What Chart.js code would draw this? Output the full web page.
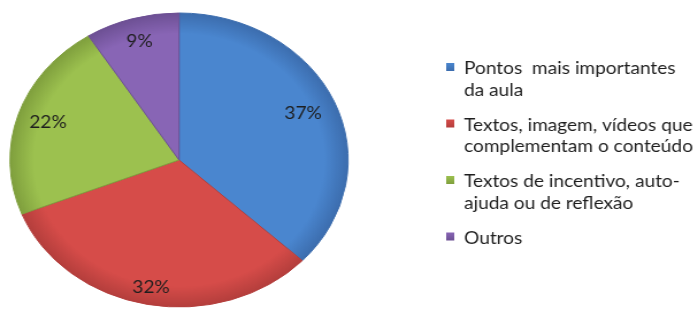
<!DOCTYPE html>
<html><head><meta charset="utf-8">
<script src="https://cdn.jsdelivr.net/npm/chart.js@4.4.1/dist/chart.umd.min.js"></script>
<style>
html,body{margin:0;padding:0;background:#fff;overflow:hidden;width:699px;height:309px}
#wrap{position:absolute;left:0;top:0;width:608px;height:309px;transform:scaleX(1.15);transform-origin:0 0}
canvas{display:block}
</style></head><body>
<div id="wrap"><canvas id="c" width="608" height="309"></canvas></div>
<script>
// ---- data ----
const categories = [
  ["Pontos  mais importantes", "da aula"],
  ["Textos, imagem, vídeos que", "complementam o conteúdo"],
  ["Textos de incentivo, auto-", "ajuda ou de reflexão"],
  ["Outros"]
];
const values = [37, 32, 22, 9];
const valueLabels = ["37%", "32%", "22%", "9%"];

// ---- style ----
const baseColors = ['#4A86CF', '#D64C49', '#9CC14F', '#8865B5'];
const rimColors  = ['#3C6DAE', '#B43E3C', '#7F9F3D', '#6D5094'];
const labelRadius = [0.80, 0.885, 0.815, 0.84];
const FONT = '16.6px Lato, "Open Sans", sans-serif';

function grad(c) {
  const i = c.dataIndex;
  const chart = c.chart, a = chart.chartArea;
  if (!a) return baseColors[i];
  const cx = (a.left + a.right) / 2, cy = (a.top + a.bottom) / 2;
  const g = chart.ctx.createRadialGradient(cx, cy, 0, cx, cy, 147);
  g.addColorStop(0, baseColors[i]);
  g.addColorStop(0.86, baseColors[i]);
  g.addColorStop(1, rimColors[i]);
  return g;
}

const labelsPlugin = {
  id: 'sliceLabels',
  afterDatasetsDraw(chart) {
    const ctx = chart.ctx;
    const meta = chart.getDatasetMeta(0);
    ctx.save();
    ctx.font = FONT;
    ctx.fillStyle = '#1e1e1e';
    ctx.textAlign = 'center';
    ctx.textBaseline = 'middle';
    meta.data.forEach((arc, i) => {
      const p = arc.getProps(['x', 'y', 'startAngle', 'endAngle', 'outerRadius'], true);
      const mid = (p.startAngle + p.endAngle) / 2;
      const r = p.outerRadius * labelRadius[i];
      ctx.fillText(valueLabels[i], p.x + Math.cos(mid) * r, p.y + Math.sin(mid) * r);
    });
    ctx.restore();
  }
};

const legendPlugin = {
  id: 'sideLegend',
  afterDraw(chart) {
    const ctx = chart.ctx;
    const x0 = 388, tx = 403.5, firstBaseline = 74, itemPitch = 56.5, linePitch = 21.5;
    ctx.save();
    ctx.font = FONT;
    ctx.textAlign = 'left';
    ctx.textBaseline = 'alphabetic';
    categories.forEach((lines, i) => {
      const b = firstBaseline + i * itemPitch;
      const g = ctx.createLinearGradient(0, b - 11, 0, b - 3);
      g.addColorStop(0, baseColors[i]);
      g.addColorStop(1, rimColors[i]);
      ctx.fillStyle = g;
      ctx.fillRect(x0, b - 11, 7, 8);
      ctx.fillStyle = '#1e1e1e';
      lines.forEach((t, j) => ctx.fillText(t, tx, b + j * linePitch));
    });
    ctx.restore();
  }
};

new Chart(document.getElementById('c'), {
  type: 'pie',
  data: {
    labels: categories.map(l => l.join(' ')),
    datasets: [{
      data: values,
      backgroundColor: grad,
      borderColor: rimColors,
      borderWidth: 1,
      radius: 147
    }]
  },
  options: {
    responsive: false,
    animation: false,
    events: [],
    layout: { padding: { left: 8.7, top: 13, right: 305.3, bottom: 2 } },
    plugins: { legend: { display: false }, tooltip: { enabled: false } }
  },
  plugins: [labelsPlugin, legendPlugin]
});
</script>
</body></html>
